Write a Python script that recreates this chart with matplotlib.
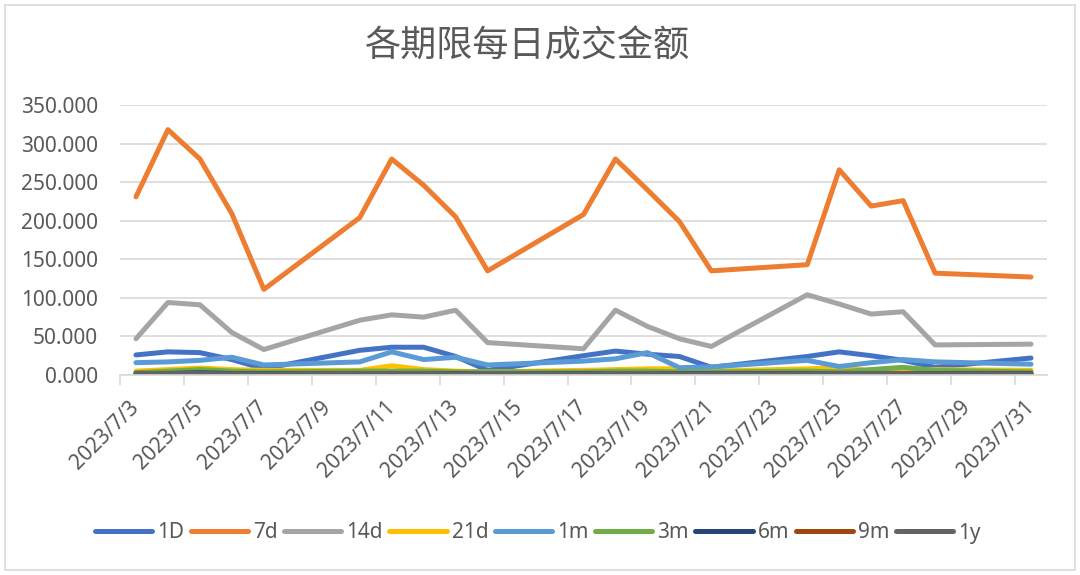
import datetime as dt

import matplotlib
matplotlib.use("Agg")
import matplotlib.pyplot as plt
import matplotlib.dates as mdates
from matplotlib.lines import Line2D
from matplotlib.patches import Rectangle
from matplotlib.ticker import FuncFormatter

plt.rcParams["font.family"] = ["Noto Sans", "Noto Sans CJK SC", "DejaVu Sans"]

# trading days, July 2023
days = [3, 4, 5, 6, 7, 10, 11, 12, 13, 14, 17, 18, 19, 20, 21, 24, 25, 26, 27, 28, 31]
dates = [dt.date(2023, 7, d) for d in days]

series_names = ["1D", "7d", "14d", "21d", "1m", "3m", "6m", "9m", "1y"]
v_1d = [26, 30, 29, 20, 8, 32, 36, 36, 24, 6, 25, 31, 27, 24, 10, 24, 30, 25, 19, 10, 22]
v_7d = [231, 318, 280, 209, 111, 204, 280, 246, 205, 135, 208, 280, 240, 199, 135, 143, 266, 219, 226, 132, 127]
v_14d = [47, 94, 91, 55, 33, 71, 78, 75, 84, 42, 34, 84, 63, 47, 37, 104, 92, 79, 82, 39, 40]
v_21d = [5, 7, 9, 7, 6, 6, 12, 7, 5, 4, 6, 7, 8, 8, 5, 8, 9, 6, 6, 7, 6]
v_1m = [16, 17, 19, 23, 13, 17, 30, 20, 23, 13, 18, 21, 29, 9.5, 10.5, 19, 11, 16, 20, 17, 14]
v_3m = [3, 5, 7, 5, 4, 5, 5, 5, 4, 4, 4, 5, 5, 4, 4, 5, 4, 7, 10, 6, 4]
v_6m = [2, 2, 3, 2, 2, 2, 2, 2, 2, 1, 2, 2, 2, 2, 2, 2, 2, 2, 2, 2, 2]
v_9m = [1, 1, 1, 1, 1, 1, 1, 1, 1, 1, 1, 1, 1, 1, 1, 1, 1, 1, 1, 1, 1]
v_1y = [2, 2, 2, 1.5, 1.5, 2, 2, 2, 1.5, 1.5, 1.5, 2, 2, 1.5, 1.5, 1.5, 2, 2, 2, 1.5, 1.5]
all_values = [v_1d, v_7d, v_14d, v_21d, v_1m, v_3m, v_6m, v_9m, v_1y]

colors = ["#4472C4", "#ED7D31", "#A5A5A5", "#FFC000", "#5B9BD5",
          "#70AD47", "#264478", "#9E480E", "#636363"]

title = "各期限每日成交金额"
y_ticks = [0, 50, 100, 150, 200, 250, 300, 350]
text_col = "#595959"
grid_col = "#D9D9D9"

fig = plt.figure(figsize=(10.8, 5.75), dpi=100)
ax = fig.add_axes([120 / 1080, 200 / 575, 927 / 1080, 270 / 575])

# chart area border
fig.patches.append(Rectangle((5 / 1080, 5 / 575), 1070 / 1080, 565 / 575,
                             transform=fig.transFigure, fill=False,
                             edgecolor=grid_col, linewidth=1.2))

for name, vals, c in zip(series_names, all_values, colors):
    ax.plot(dates, vals, color=c, lw=3.6, solid_capstyle="round",
            solid_joinstyle="round", label=name)

x0 = mdates.date2num(dt.date(2023, 7, 3)) - 0.5
x1 = mdates.date2num(dt.date(2023, 7, 31)) + 0.5
ax.set_xlim(x0, x1)
ax.set_ylim(0, 350)

ax.set_yticks(y_ticks)
ax.yaxis.set_major_formatter(FuncFormatter(lambda v, p: f"{v:.3f}"))
ax.tick_params(axis="y", length=0, pad=16, labelsize=15, labelcolor=text_col)
ax.grid(axis="y", color=grid_col, lw=1.2)
ax.set_axisbelow(True)

# tick marks between days, labels on every other day
label_days = [mdates.date2num(dt.date(2023, 7, d)) for d in range(3, 32, 2)]
ax.set_xticks([d - 0.5 for d in label_days], minor=False)
ax.set_xticklabels([])
ax.set_xticks(label_days, minor=True)
ax.xaxis.set_minor_formatter(FuncFormatter(
    lambda v, p: "{0}/{1}/{2}".format(mdates.num2date(v).year,
                                       mdates.num2date(v).month,
                                       mdates.num2date(v).day)))
ax.tick_params(axis="x", which="major", length=7, width=1.2, color=grid_col)
ax.tick_params(axis="x", which="minor", length=0, pad=21, labelsize=15,
               labelcolor=text_col)
for lab in ax.xaxis.get_minorticklabels():
    lab.set_rotation(45)
    lab.set_ha("right")
    lab.set_va("center")
    lab.set_rotation_mode("anchor")

for s in ["top", "right", "left"]:
    ax.spines[s].set_visible(False)
ax.spines["bottom"].set_color(grid_col)
ax.spines["bottom"].set_linewidth(1.2)

fig.text(528 / 1080, 1 - 47 / 575, title, ha="center", va="center",
         fontsize=26, color=text_col, family=["Noto Sans CJK SC", "DejaVu Sans"])

handles = [Line2D([0], [0], color=c, lw=3.6, solid_capstyle="round") for c in colors]
leg = fig.legend(handles, series_names, loc="center", ncol=9,
                 bbox_to_anchor=(538 / 1080, 42 / 575), frameon=False,
                 fontsize=15, handlelength=2.75, handletextpad=0.25,
                 columnspacing=0.3, labelcolor=text_col)

fig.savefig("out.png", dpi=100)
